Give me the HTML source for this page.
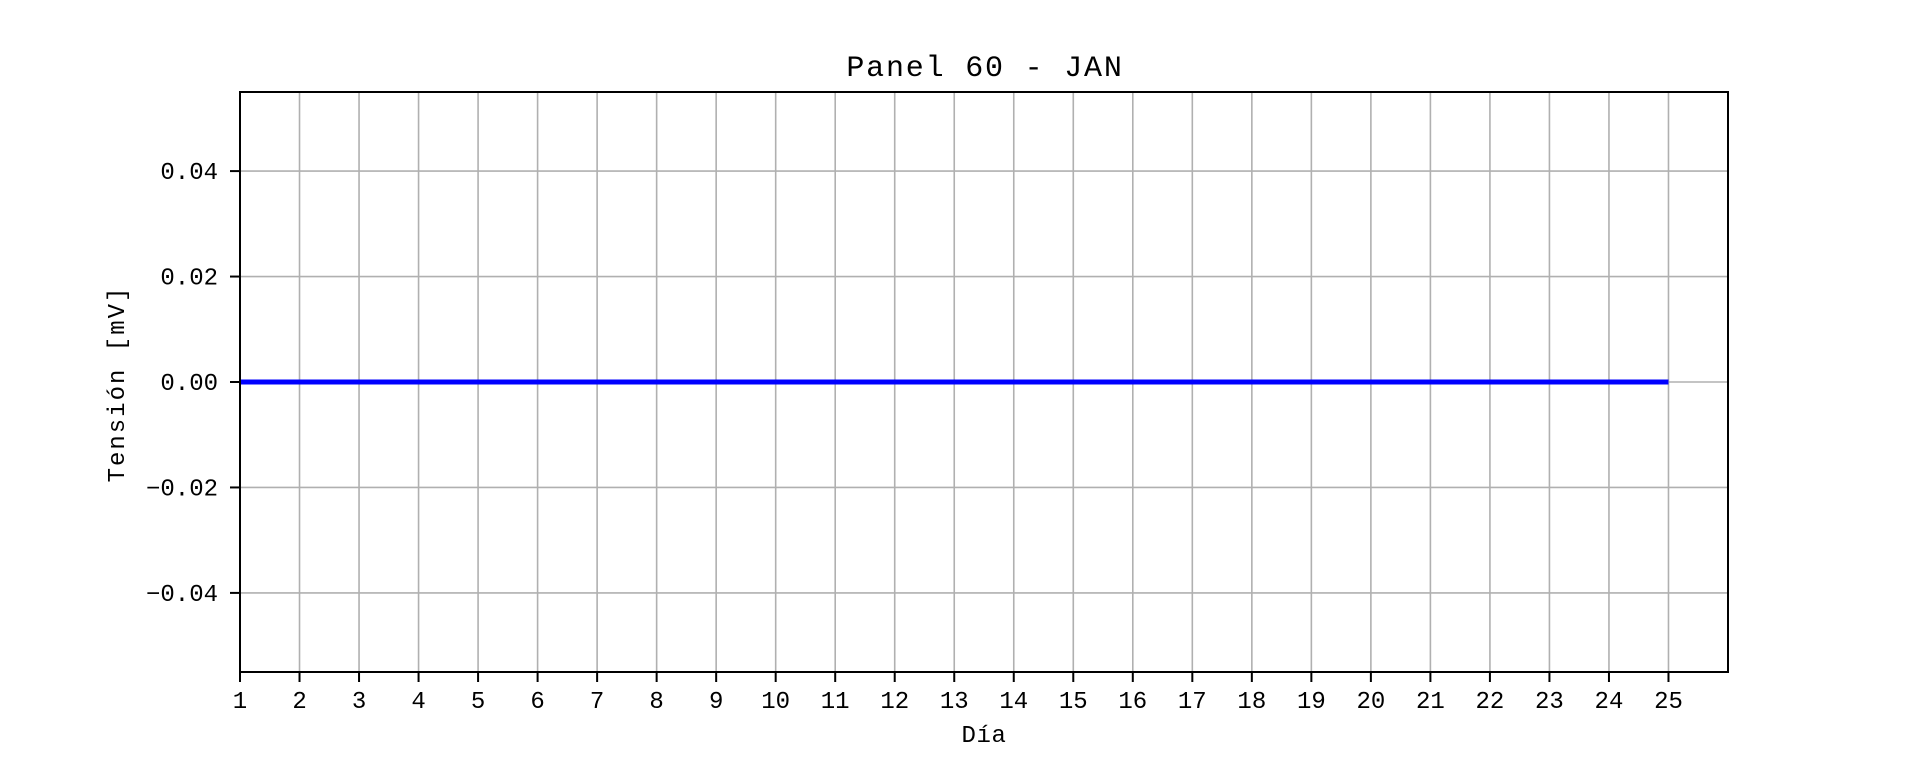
<!DOCTYPE html>
<html><head><meta charset="utf-8"><style>
html,body{margin:0;padding:0;background:#fff;}
svg{display:block;font-family:"Liberation Mono","DejaVu Sans Mono",monospace;}
</style></head><body>
<svg id="chart" width="1920" height="768" viewBox="0 0 1920 768">
<rect width="1920" height="768" fill="#fff"/>
<text x="985" y="76" font-size="30" letter-spacing="1.8" text-anchor="middle" fill="#000">Panel 60 - JAN</text>
<g id="grid"></g>
<g id="series"></g>
<rect x="240" y="92" width="1488" height="580" fill="none" stroke="#000" stroke-width="2"/>
<g id="axes"></g>
<text x="984" y="742" font-size="24" letter-spacing="0.6" text-anchor="middle" fill="#000">Día</text>
<text transform="translate(124,384) rotate(-90)" font-size="24" letter-spacing="2" text-anchor="middle" fill="#000">Tensión [mV]</text>
</svg>
<script>
const days = [1,2,3,4,5,6,7,8,9,10,11,12,13,14,15,16,17,18,19,20,21,22,23,24,25];
const values = [0,0,0,0,0,0,0,0,0,0,0,0,0,0,0,0,0,0,0,0,0,0,0,0,0];
const yTicks = [-0.04,-0.02,0,0.02,0.04];
const yTickLabels = ["\u22120.04","\u22120.02","0.00","0.02","0.04"];
const xMin=1,xMax=26,yMin=-0.055,yMax=0.055;
const L=240,R=1728,T=92,B=672;
const xs=v=>L+(v-xMin)/(xMax-xMin)*(R-L);
const ys=v=>B-(v-yMin)/(yMax-yMin)*(B-T);
const NS="http://www.w3.org/2000/svg";
const grid=document.getElementById('grid'),axes=document.getElementById('axes'),series=document.getElementById('series');
function mk(tag,attrs,parent){const e=document.createElementNS(NS,tag);for(const k in attrs)e.setAttribute(k,attrs[k]);parent.appendChild(e);return e;}
days.forEach(d=>{
  const x=xs(d);
  const g=mk('line',{x1:x,x2:x,y1:T,y2:B,stroke:'#b0b0b0','stroke-width':1.6},grid);
  
  
  const t=mk('line',{x1:x,x2:x,y1:B,y2:B+10,stroke:'#000','stroke-width':2},axes);
  
  
  const l=mk('text',{x:x,y:B+36,'font-size':24,'text-anchor':'middle',fill:'#000'},axes);
  l.textContent=String(d);
  
  
});
yTicks.forEach((v,i)=>{
  const y=ys(v);
  const g=mk('line',{x1:L,x2:R,y1:y,y2:y,stroke:'#b0b0b0','stroke-width':1.6},grid);
  
  
  const t=mk('line',{x1:L-10,x2:L,y1:y,y2:y,stroke:'#000','stroke-width':2},axes);
  
  
  const l=mk('text',{x:L-22,y:y+8,'font-size':24,'text-anchor':'end',fill:'#000'},axes);
  l.textContent=yTickLabels[i];
  
  
});
const pts=days.map((d,i)=>xs(d)+','+ys(values[i])).join(' ');
const pl=mk('polyline',{points:pts,fill:'none',stroke:'#0000ff','stroke-width':5},series);


</script>
</body></html>
